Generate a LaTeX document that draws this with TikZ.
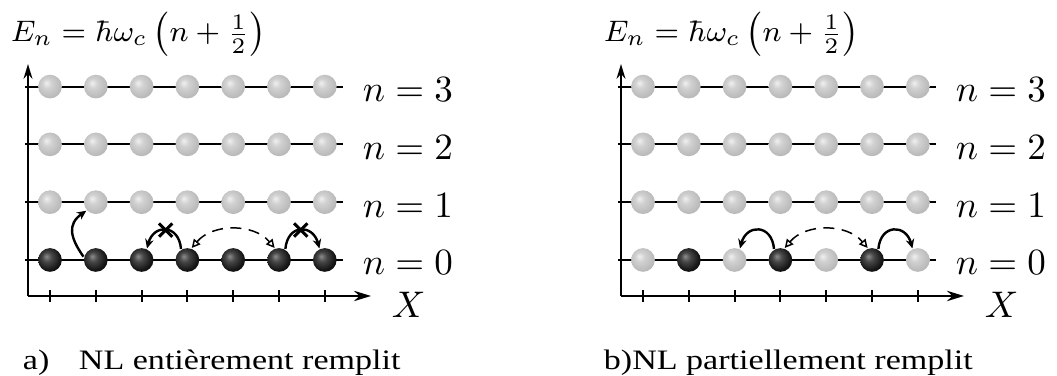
\documentclass[tikz,border=0pt]{standalone}
\usepackage{fontspec}
\newfontfamily\capfont{Liberation Serif}
\usetikzlibrary{arrows.meta,shapes.misc}
\pgfdeclareradialshading{lightball}{\pgfqpoint{-8bp}{8bp}}{color(0bp)=(black!6);
  color(10bp)=(black!18); color(28bp)=(black!28); color(50bp)=(black!38)}
\pgfdeclareradialshading{darkball}{\pgfqpoint{-8bp}{8bp}}{color(0bp)=(black!45);
  color(10bp)=(black!72); color(25bp)=(black!92); color(50bp)=(black)}

\tikzset{
  site/.style={circle,inner sep=0pt,minimum size=6.4pt},
  empty/.style={site,shading=lightball},
  full/.style={site,shading=darkball},
  lbl/.style={anchor=base west,inner sep=0pt},
  caption/.style={lbl,font=\capfont\fontsize{7.6}{9}\selectfont},
  hop/.style={-{Stealth[length=2.5pt,width=2.3pt]},line width=0.65pt},
  swap/.style={{Triangle[open,length=2.3pt,width=2.3pt]}-{Triangle[open,length=2.3pt,width=2.3pt]},
    densely dashed,line width=0.4pt},
  nope/.style={cross out,draw,line width=0.8pt,minimum size=2.8pt,inner sep=0pt},
}

\begin{document}
\begin{tikzpicture}[x=0.27pt,y=0.27pt,line width=0.5pt]
  \useasboundingbox (0,0) rectangle (1057,376);
  % both panels: axes, levels, empty sites
  \foreach \p/\dx in {a/0,b/593}{
    \begin{scope}[shift={(\dx,0)}]
      \coordinate (\p O) at (28,80);
      \coordinate (\p Y) at (28,312);
      \coordinate (\p X) at (371,80);
      \draw[-{Stealth[length=4pt,width=2.4pt]},line width=0.6pt] (\p O) -- (\p Y);
      \draw[-{Stealth[length=4.6pt,width=2.8pt]},line width=0.6pt] (\p O) -- (\p X);
      \node[lbl,font=\fontsize{8.5}{10}\selectfont] at (10,334)
        {$E_n=\hbar\omega_c\left(n+\frac{1}{2}\right)$};
      \node[lbl] at (391,58) {$X$};
      \foreach \i in {1,...,7}
        \draw (4.2+45.8*\i,74) -- (4.2+45.8*\i,86);
      \foreach \k in {0,...,3}{
        \draw (25,116+57.8*\k) -- (343,116+57.8*\k);
        \node[lbl] at (362,101+57.8*\k) {$n=\k$};
      }
      \foreach \k in {1,...,3}
        \foreach \i in {1,...,7}
          \node[empty] (\p\k\i) at (4.2+45.8*\i,116+57.8*\k) {};
    \end{scope}
  }
  % a) lowest level full
  \foreach \i in {1,...,7}
    \node[full] (a0\i) at (4.2+45.8*\i,116) {};
  % b) lowest level half full
  \foreach \i/\s in {1/empty,2/full,3/empty,4/full,5/empty,6/full,7/empty}
    \node[\s] (b0\i) at (597.2+45.8*\i,116) {};

  % hops in a)
  \draw[hop] (a02.165) to[out=125,in=215,looseness=1.3] (a12.222);
  \draw[hop] (a04.120) to[out=95,in=75,looseness=1.9]
    node[nope,pos=0.5] {} (a03.65);
  \draw[swap] (a04.70) to[bend left=50] (a06.110);
  \draw[hop] (a06.60) to[out=85,in=105,looseness=1.9]
    node[nope,pos=0.5] {} (a07.115);
  % hops in b)
  \draw[hop] (b04.120) to[out=95,in=75,looseness=1.9] (b03.65);
  \draw[swap] (b04.70) to[bend left=50] (b06.110);
  \draw[hop] (b06.60) to[out=85,in=105,looseness=1.9] (b07.115);

  \node[caption] (capa) at (22,6)
    {\scalebox{1.21}[1]{a)\hspace{6.6pt}NL entièrement remplit}};
  \node[caption] (capb) at (603,6)
    {\scalebox{1.21}[1]{b)NL partiellement remplit}};
\end{tikzpicture}
\end{document}
